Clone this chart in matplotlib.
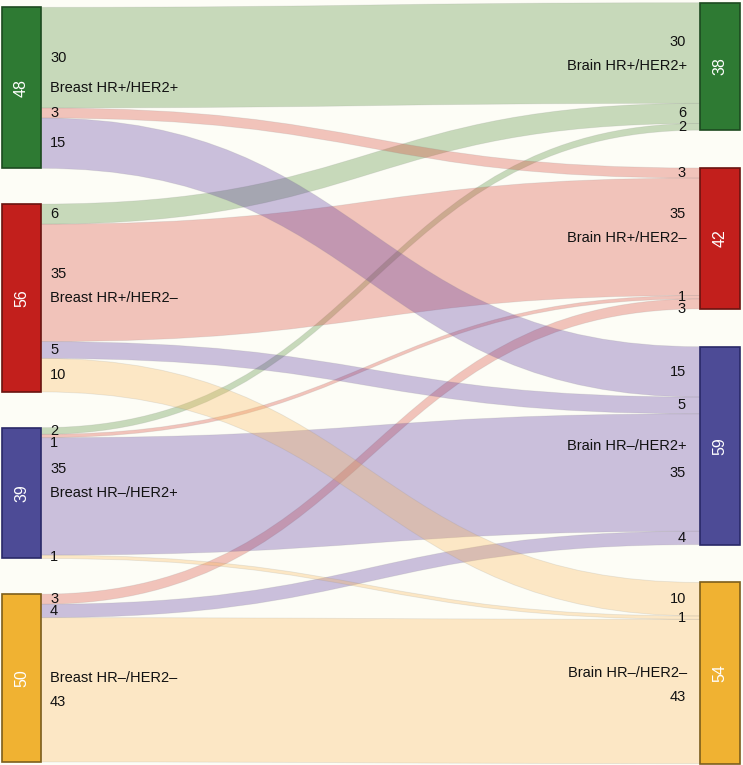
import matplotlib
matplotlib.use("Agg")
import matplotlib.pyplot as plt
from matplotlib.path import Path
from matplotlib.patches import PathPatch, Rectangle
import numpy as np

plt.rcParams['font.family'] = ['Liberation Sans', 'DejaVu Sans']

# ---------------- data ----------------
sources = ["Breast HR+/HER2+", "Breast HR+/HER2–", "Breast HR–/HER2+", "Breast HR–/HER2–"]
targets = ["Brain HR+/HER2+", "Brain HR+/HER2–", "Brain HR–/HER2+", "Brain HR–/HER2–"]
# rows = source, columns = target
flow_values = [
    [30, 3, 15, 0],
    [6, 35, 5, 10],
    [2, 1, 35, 1],
    [0, 3, 4, 43],
]

# ---------------- style ----------------
node_colors = ["#2e7a33", "#c21f1c", "#4d4b96", "#f0b232"]
node_edges = ["#1d4a20", "#6a1410", "#2a2968", "#7d5e1c"]
flow_colors = ["#4c8830", "#d83f32", "#57329d", "#fab754"]
flow_alpha = 0.3
bg = "#fdfdf6"

W, H = 743, 765
k = 3.355                      # px per unit
left_top, left_gap = 7.3, 35.7
right_top, right_gap = 2.7, 37.8
lx0, lx1 = 2, 41
rx0, rx1 = 700, 740
fs = 10.5
fs_node = 11.5

F = np.array(flow_values, dtype=float)
src_tot = F.sum(axis=1)
tgt_tot = F.sum(axis=0)

fig = plt.figure(figsize=(W / 100, H / 100), dpi=100, facecolor=bg)
ax = fig.add_axes([0, 0, 1, 1])
ax.set_xlim(0, W)
ax.set_ylim(H, 0)
ax.axis("off")
ax.set_facecolor(bg)

# node positions
src_y = []
y = left_top
for t in src_tot:
    src_y.append(y)
    y += t * k + left_gap
tgt_y = []
y = right_top
for t in tgt_tot:
    tgt_y.append(y)
    y += t * k + right_gap

# flow end positions
n = len(sources)
left_pos = {}
for i in range(n):
    y = src_y[i]
    for j in range(n):
        v = F[i, j]
        if v > 0:
            left_pos[(i, j)] = (y, y + v * k)
            y += v * k
right_pos = {}
for j in range(n):
    y = tgt_y[j]
    for i in range(n):
        v = F[i, j]
        if v > 0:
            right_pos[(i, j)] = (y, y + v * k)
            y += v * k

xa, xb = lx1, rx0
xm = (xa + xb) / 2
order = sorted(left_pos.keys(), key=lambda t: (t[1], t[0]))
for (i, j) in order:
    a0, a1 = left_pos[(i, j)]
    b0, b1 = right_pos[(i, j)]
    verts = [(xa, a0), (xm, a0), (xm, b0), (xb, b0),
             (xb, b1), (xm, b1), (xm, a1), (xa, a1), (xa, a0)]
    codes = [Path.MOVETO, Path.CURVE4, Path.CURVE4, Path.CURVE4,
             Path.LINETO, Path.CURVE4, Path.CURVE4, Path.CURVE4, Path.CLOSEPOLY]
    col = matplotlib.colors.to_rgba(flow_colors[j], flow_alpha)
    ax.add_patch(PathPatch(Path(verts, codes), facecolor=col,
                           edgecolor=(0.55, 0.55, 0.55, 0.18), lw=0.6, zorder=1))

# nodes
for i in range(n):
    h = src_tot[i] * k
    ax.add_patch(Rectangle((lx0, src_y[i]), lx1 - lx0, h, facecolor=node_colors[i],
                           edgecolor=node_edges[i], lw=1.2, zorder=3))
    ax.text((lx0 + lx1) / 2, src_y[i] + h / 2, f"{int(src_tot[i])}", color="white",
            rotation=90, ha="center", va="center", fontsize=fs_node, zorder=4)
for j in range(n):
    h = tgt_tot[j] * k
    ax.add_patch(Rectangle((rx0, tgt_y[j]), rx1 - rx0, h, facecolor=node_colors[j],
                           edgecolor=node_edges[j], lw=1.2, zorder=3))
    ax.text((rx0 + rx1) / 2, tgt_y[j] + h / 2, f"{int(tgt_tot[j])}", color="white",
            rotation=90, ha="center", va="center", fontsize=fs_node, zorder=4)


def place_labels(centers, name_y):
    out = []
    for c in centers:
        d = c - name_y
        if abs(d) < 24:
            c = name_y + 24 if d > 5 else name_y - 24
        out.append(c)
    # enforce minimal spacing
    for m in range(1, len(out)):
        if out[m] - out[m - 1] < 12:
            out[m] = out[m - 1] + 12
    return out


# left labels
for i in range(n):
    name_y = src_y[i] + src_tot[i] * k / 2
    ax.text(50, name_y, sources[i], ha="left", va="center", fontsize=fs, color="#111111", zorder=5)
    keys = [(i, j) for j in range(n) if (i, j) in left_pos]
    centers = [sum(left_pos[kk]) / 2 for kk in keys]
    ys = place_labels(centers, name_y)
    for kk, yy in zip(keys, ys):
        ax.text(50, yy, f"{int(F[kk])}", ha="left", va="center", fontsize=fs, color="#111111", zorder=5)

# right labels
for j in range(n):
    name_y = tgt_y[j] + tgt_tot[j] * k / 2
    ax.text(687, name_y, targets[j], ha="right", va="center", fontsize=fs, color="#111111", zorder=5)
    keys = [(i, j) for i in range(n) if (i, j) in right_pos]
    centers = [sum(right_pos[kk]) / 2 for kk in keys]
    ys = place_labels(centers, name_y)
    for kk, yy in zip(keys, ys):
        ax.text(686, yy, f"{int(F[kk])}", ha="right", va="center", fontsize=fs, color="#111111", zorder=5)

fig.savefig("out.png", dpi=100, facecolor=bg)
